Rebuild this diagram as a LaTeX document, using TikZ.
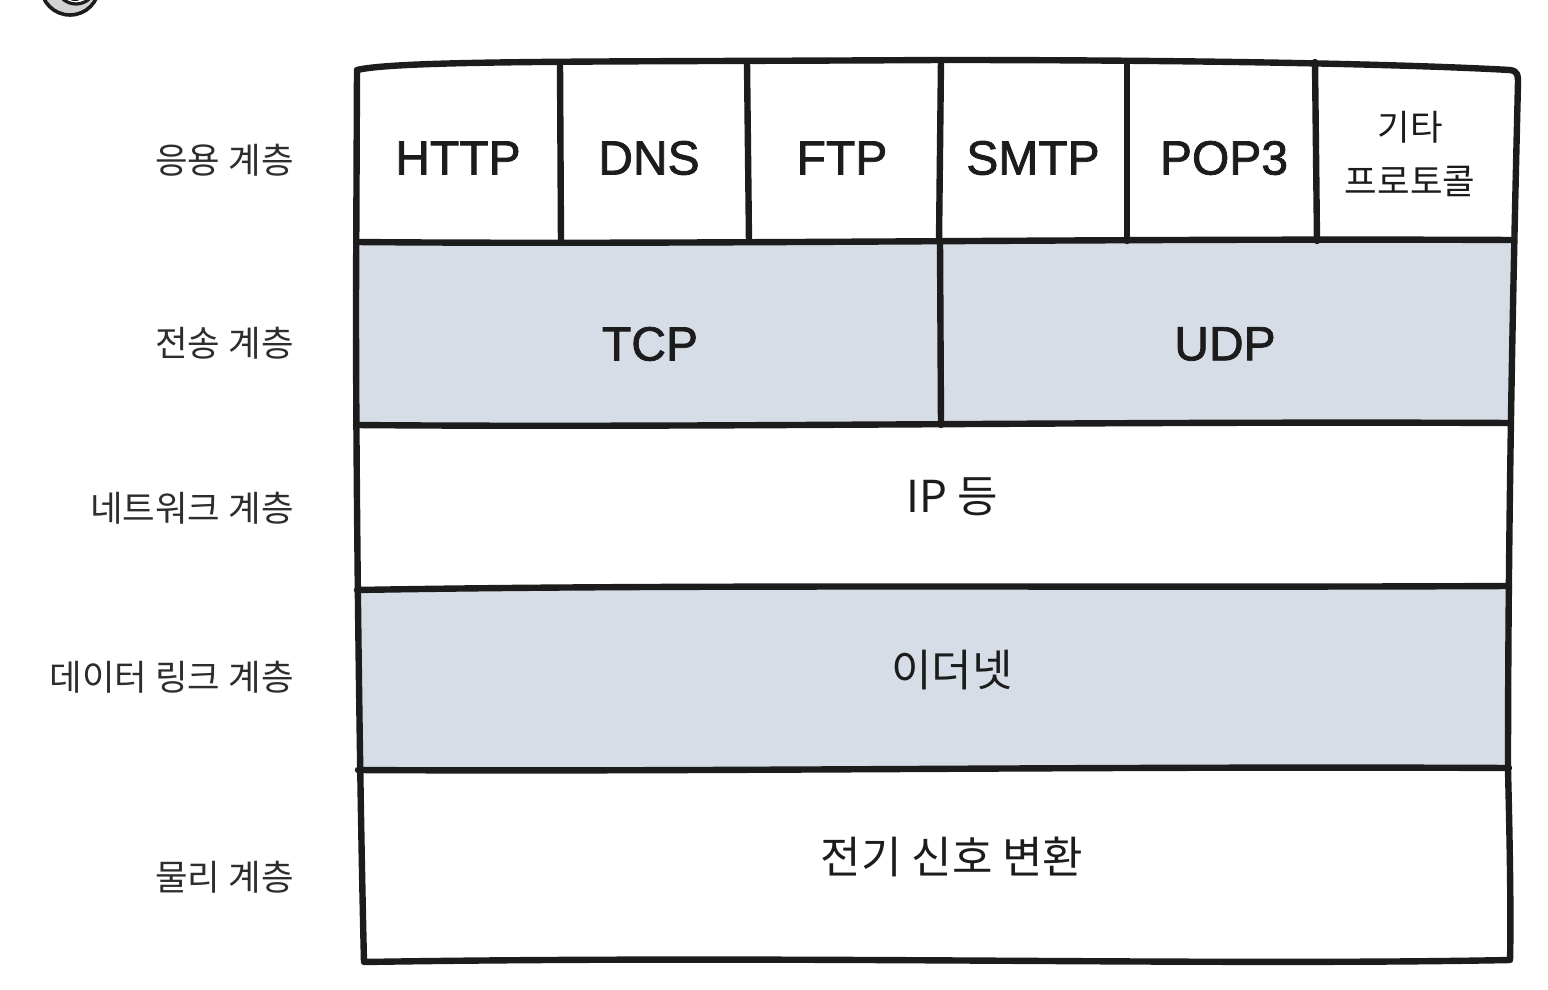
\documentclass[tikz,border=0pt]{standalone}
\usepackage{fontspec}
\setmainfont{Liberation Sans}
\newfontfamily\kr{Noto Sans CJK KR}
\newfontfamily\en[FakeBold=1.6]{Liberation Sans}
\definecolor{layerfill}{RGB}{214,221,231}
\definecolor{ink}{RGB}{28,28,28}
\definecolor{lbl}{RGB}{45,45,45}
\tikzset{
  frame/.style={draw=ink, line width=3.2pt, line cap=round, line join=round},
  proto/.style={font=\en\fontsize{24}{28}\selectfont, text=ink, anchor=center, inner sep=0pt},
  krproto/.style={font=\kr\fontsize{22}{26}\selectfont, text=ink, anchor=center, inner sep=0pt},
  smallkr/.style={font=\kr\fontsize{17.7}{27}\selectfont, text=ink, anchor=center, inner sep=0pt, align=center},
  layerlbl/.style={font=\kr\fontsize{17.7}{20}\selectfont, text=lbl, anchor=east, inner sep=0pt}
}
\begin{document}
\begin{tikzpicture}[x=0.5pt,y=-0.5pt]
\useasboundingbox (0,0) rectangle (1548,990);
% partial icon at top-left
\begin{scope}
\clip (0,0) rectangle (200,40);
\fill[gray!35] (70,-14) circle (29);
\fill[white] (76,-16) circle (20);
\draw[ink, line width=1.8pt] (70,-14) circle (29);
\draw[ink, line width=1.6pt] (76,-16) circle (20);
\fill[ink] (75,-2) ellipse (6 and 3);
\end{scope}
% fills
\fill[layerfill] (357,242) .. controls (700,245) and (1100,238) .. (1512,240)
  -- (1510,423) .. controls (1100,421) and (700,428) .. (357,425) -- cycle;
\fill[layerfill] (358,590) .. controls (700,584) and (1100,588) .. (1508,586)
  -- (1508,768) .. controls (1100,766) and (700,772) .. (358,770) -- cycle;
% outer frame
\draw[frame] (357,70) .. controls (400,60) and (600,62) .. (940,60)
  .. controls (1200,60) and (1400,64) .. (1510,70)
  .. controls (1518,71) and (1518,76) .. (1518,82)
  .. controls (1514,250) and (1508,500) .. (1508,770)
  .. controls (1510,850) and (1511,920) .. (1510,960)
  .. controls (1200,966) and (800,955) .. (364,962)
  .. controls (360,800) and (356,500) .. (356,300)
  -- cycle;
% horizontal separators
\draw[frame] (356,242) .. controls (700,245) and (1100,238) .. (1513,240);
\draw[frame] (356,425) .. controls (700,428) and (1100,421) .. (1511,423);
\draw[frame] (357,590) .. controls (700,584) and (1100,588) .. (1509,586);
\draw[frame] (358,770) .. controls (700,772) and (1100,766) .. (1509,768);
% application column separators
\draw[frame] (560,64) -- (561,243);
\draw[frame] (747,62) -- (749,242);
\draw[frame] (941,60) -- (939,242);
\draw[frame] (1127,61) -- (1127,241);
\draw[frame] (1315,62) -- (1317,241);
% TCP/UDP separator
\draw[frame] (940,242) -- (941,425);
% layer labels
\node[layerlbl] (l1) at (294,160) {응용 계층};
\node[layerlbl] (l2) at (294,343) {전송 계층};
\node[layerlbl] (l3) at (294,508) {네트워크 계층};
\node[layerlbl] (l4) at (294,677) {데이터 링크 계층};
\node[layerlbl] (l5) at (294,877) {물리 계층};
% protocols
\node[proto] (http) at (458,158) {HTTP};
\node[proto] (dns) at (649,158) {DNS};
\node[proto] (ftp) at (842,158) {FTP};
\node[proto] (smtp) at (1033,158) {SMTP};
\node[proto] (pop3) at (1224,158) {POP3};
\node[smallkr] (etc) at (1410,154) {기타\\프로토콜};
\node[proto] (tcp) at (650,344) {TCP};
\node[proto] (udp) at (1225,344) {UDP};
\node[krproto] (ip) at (952,497) {IP 등};
\node[krproto] (eth) at (952,670) {이더넷};
\node[krproto] (phy) at (952,857) {전기 신호 변환};
\end{tikzpicture}
\end{document}
